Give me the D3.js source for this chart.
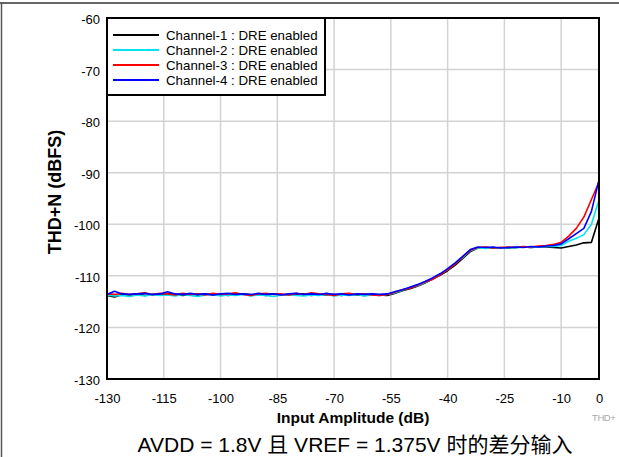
<!DOCTYPE html>
<html><head><meta charset="utf-8">
<script src="https://cdn.jsdelivr.net/npm/d3@7"></script>
<style>
html,body{margin:0;padding:0;background:#fff;}
svg{display:block;font-family:"Liberation Sans",Arial,sans-serif;}
</style></head>
<body>
<svg id="c" width="619" height="457"></svg>
<script>
const inputDb = [-130,-128,-126,-124,-122,-120,-118,-116,-114,-112,-110,-108,-106,-104,-102,-100,-98,-96,-94,-92,-90,-88,-86,-84,-82,-80,-78,-76,-74,-72,-70,-68,-66,-64,-62,-60,-58,-56,-54,-52,-50,-48,-46,-44,-42,-40,-38,-36,-34,-32,-30,-28,-26,-24,-22,-20,-18,-16,-14,-12,-10,-8,-6,-4,-2,0];
const ch1 = [-113.8,-114.1,-113.6,-113.7,-113.5,-113.8,-113.6,-113.7,-113.5,-113.6,-113.8,-113.6,-113.7,-113.5,-113.7,-113.6,-113.8,-113.6,-113.5,-113.7,-113.6,-113.8,-113.5,-113.7,-113.6,-113.7,-113.5,-113.8,-113.6,-113.7,-113.6,-113.8,-113.6,-113.7,-113.8,-113.6,-113.7,-113.8,-113.4,-112.9,-112.5,-112.0,-111.4,-110.6,-109.9,-109.0,-107.9,-106.6,-105.3,-104.6,-104.5,-104.6,-104.5,-104.6,-104.5,-104.4,-104.5,-104.4,-104.4,-104.5,-104.6,-104.3,-104.0,-103.6,-103.5,-98.8];
const ch2 = [-113.7,-113.9,-113.8,-114.0,-113.7,-113.9,-113.6,-113.8,-113.7,-113.9,-113.6,-113.8,-114.0,-113.7,-113.6,-113.9,-113.7,-113.8,-113.6,-113.9,-113.7,-113.8,-114.0,-113.7,-113.6,-113.8,-113.9,-113.7,-113.8,-113.6,-113.9,-113.7,-113.8,-113.6,-113.9,-113.7,-113.8,-113.6,-113.3,-112.8,-112.3,-111.9,-111.3,-110.5,-109.7,-108.8,-107.6,-106.4,-105.1,-104.6,-104.7,-104.5,-104.6,-104.5,-104.6,-104.4,-104.5,-104.4,-104.3,-104.3,-104.1,-103.3,-102.7,-102.0,-100.0,-95.3];
const ch3 = [-113.5,-113.6,-113.4,-113.6,-113.5,-113.3,-113.6,-113.4,-113.5,-113.7,-113.4,-113.6,-113.5,-113.7,-113.4,-113.6,-113.5,-113.3,-113.6,-113.8,-113.5,-113.4,-113.6,-113.5,-113.7,-113.4,-113.6,-113.3,-113.5,-113.6,-113.8,-113.5,-113.4,-113.6,-113.5,-113.7,-113.8,-113.6,-113.2,-112.7,-112.4,-111.8,-111.2,-110.7,-109.8,-108.8,-107.7,-106.3,-105.0,-104.5,-104.4,-104.6,-104.5,-104.4,-104.5,-104.3,-104.4,-104.2,-104.1,-103.9,-103.5,-102.3,-100.8,-98.6,-95.2,-91.8];
const ch4 = [-113.6,-113.0,-113.5,-113.6,-113.5,-113.4,-113.6,-113.5,-113.1,-113.5,-113.6,-113.4,-113.6,-113.5,-113.7,-113.5,-113.4,-113.6,-113.5,-113.6,-113.4,-113.6,-113.5,-113.7,-113.5,-113.4,-113.6,-113.5,-113.6,-113.4,-113.6,-113.5,-113.7,-113.5,-113.6,-113.5,-113.6,-113.5,-113.1,-112.7,-112.2,-111.7,-111.1,-110.4,-109.6,-108.6,-107.5,-106.2,-104.9,-104.4,-104.5,-104.4,-104.6,-104.5,-104.4,-104.5,-104.3,-104.4,-104.2,-104.1,-103.8,-102.8,-101.8,-100.8,-97.5,-91.4];
const seriesNames = ["Channel-1 : DRE enabled","Channel-2 : DRE enabled","Channel-3 : DRE enabled","Channel-4 : DRE enabled"];
const seriesColors = ["#000000","#00e5f0","#ff0000","#0000ff"];
const xTicks = [-130,-115,-100,-85,-70,-55,-40,-25,-10,0];
const yTicks = [-60,-70,-80,-90,-100,-110,-120,-130];
const xTitle = "Input Amplitude (dB)";
const yTitle = "THD+N (dBFS)";
const caption = "AVDD = 1.8V 且 VREF = 1.375V 时的差分输入";
const figId = "THD+";

const svg = d3.select("#c");
const L = 107, R = 599, T = 18, B = 379;
const x = d3.scaleLinear().domain([-130,0]).range([L,R]);
const y = d3.scaleLinear().domain([-130,-60]).range([B,T]);
const fmt = d => String(d);

// outer frame lines
svg.append("line").attr("x1",0).attr("x2",619).attr("y1",3).attr("y2",3).attr("stroke","#333").attr("stroke-width",1.5);
svg.append("line").attr("x1",1.5).attr("x2",1.5).attr("y1",3).attr("y2",457).attr("stroke","#555").attr("stroke-width",1.5);

// grid
svg.append("g").selectAll("line").data(xTicks.filter(d=>d>-130&&d<0)).join("line")
  .attr("x1",d=>x(d)).attr("x2",d=>x(d)).attr("y1",T).attr("y2",B)
  .attr("stroke","#d3d3d3").attr("stroke-width",1.5);
svg.append("g").selectAll("line").data(yTicks.filter(d=>d>-130&&d<-60)).join("line")
  .attr("x1",L).attr("x2",R).attr("y1",d=>y(d)).attr("y2",d=>y(d))
  .attr("stroke","#d3d3d3").attr("stroke-width",1.5);

// axes (labels only)
const xAxis = d3.axisBottom(x).tickValues(xTicks).tickSize(0).tickPadding(0).tickFormat(fmt);
const gx = svg.append("g").attr("transform",`translate(0,${B})`).call(xAxis);
gx.select(".domain").remove();
gx.selectAll("text").attr("font-size",13).attr("fill","#000").attr("font-family","Liberation Sans, Arial, sans-serif").attr("dy",null).attr("y",24);
const yAxis = d3.axisLeft(y).tickValues(yTicks).tickSize(0).tickPadding(7).tickFormat(fmt);
const gy = svg.append("g").attr("transform",`translate(${L},0)`).call(yAxis);
gy.select(".domain").remove();
gy.selectAll("text").attr("font-size",13).attr("fill","#000").attr("font-family","Liberation Sans, Arial, sans-serif").attr("dy","0.42em");

// clip
svg.append("clipPath").attr("id","clip").append("rect").attr("x",L).attr("y",T).attr("width",R-L).attr("height",B-T);

const all = [ch1,ch2,ch3,ch4];
const line = d3.line().x((d,i)=>x(inputDb[i])).y(d=>y(d));
const gl = svg.append("g").attr("clip-path","url(#clip)");
all.forEach((s,k)=>{
  gl.append("path").datum(s).attr("d",line).attr("fill","none")
    .attr("stroke",seriesColors[k]).attr("stroke-width",1.6).attr("stroke-linejoin","round");
});

// plot border
svg.append("rect").attr("x",L).attr("y",T).attr("width",R-L).attr("height",B-T)
  .attr("fill","none").attr("stroke","#000").attr("stroke-width",2);

// legend
const lg = svg.append("g");
lg.append("rect").attr("x",L).attr("y",T).attr("width",218).attr("height",77)
  .attr("fill","#fff").attr("stroke","#000").attr("stroke-width",2);
seriesNames.forEach((n,k)=>{
  const cy = 35 + k*15;
  lg.append("line").attr("x1",113).attr("x2",159).attr("y1",cy).attr("y2",cy)
    .attr("stroke",seriesColors[k]).attr("stroke-width",2);
  lg.append("text").attr("x",166).attr("y",cy).attr("dy","0.36em").attr("font-size",13.3).text(n);
});

// titles
svg.append("text").attr("x",353).attr("y",423).attr("text-anchor","middle")
  .attr("font-size",15.5).attr("font-weight","bold").text(xTitle);
svg.append("text").attr("transform","translate(61,192) rotate(-90)").attr("text-anchor","middle")
  .attr("font-size",18).attr("font-weight","bold").text(yTitle);
svg.append("text").attr("x",592).attr("y",421).attr("font-size",9.5).attr("fill","#aaa").attr("letter-spacing","-0.4").text(figId);
svg.append("text").attr("x",355).attr("y",452).attr("text-anchor","middle")
  .attr("font-size",21).attr("font-family","Liberation Sans, Noto Sans CJK SC, sans-serif").text(caption);
</script>
</body></html>
